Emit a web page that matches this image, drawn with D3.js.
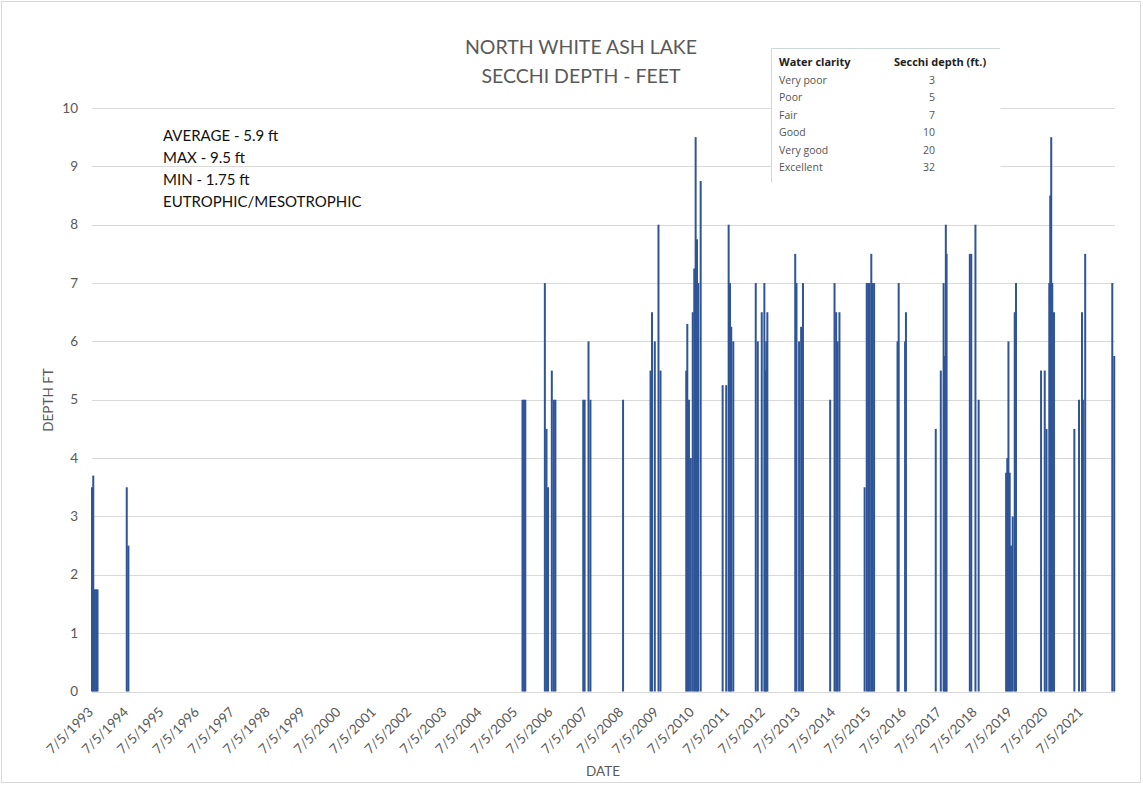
<!DOCTYPE html>
<html><head><meta charset="utf-8">
<script src="https://cdn.jsdelivr.net/npm/d3@7"></script>
<style>body{margin:0;background:#fff}svg{display:block}</style>
</head><body>
<svg id="c" width="1143" height="786"></svg>
<script>
// ---- data ----
const sampleDates = [
"1993-07-05","1993-07-18","1993-08-02","1993-08-16","1993-08-31",
"1994-06-29","1994-07-16",
"2005-09-08","2005-09-24","2005-10-07",
"2006-04-27","2006-05-14","2006-05-30","2006-07-08","2006-07-29","2006-08-14",
"2007-05-29","2007-06-12","2007-07-22","2007-08-11",
"2008-07-13",
"2009-04-23","2009-05-08","2009-06-06","2009-07-14","2009-08-04",
"2010-04-27","2010-05-08","2010-05-25","2010-06-13","2010-07-03","2010-07-19","2010-08-02","2010-08-16","2010-08-29","2010-09-23",
"2011-05-08","2011-06-14","2011-07-09","2011-07-23","2011-08-05","2011-08-26",
"2012-04-14","2012-05-05","2012-06-15","2012-07-12","2012-07-22","2012-08-01","2012-08-12",
"2013-05-27","2013-06-09","2013-07-06","2013-07-27","2013-08-15",
"2014-05-23","2014-07-07","2014-07-24","2014-08-08","2014-08-27",
"2015-05-14","2015-06-05","2015-06-20","2015-07-05","2015-07-22","2015-08-04","2015-08-20",
"2016-04-18","2016-04-30","2016-07-05","2016-07-14",
"2017-05-18","2017-07-09","2017-08-07","2017-08-17","2017-08-30","2017-09-07",
"2018-05-05","2018-05-20","2018-07-02","2018-08-04",
"2019-05-15","2019-05-27","2019-06-08","2019-06-21","2019-07-04","2019-07-22","2019-08-12","2019-08-25",
"2020-05-10","2020-06-17","2020-07-05","2020-08-03","2020-08-13","2020-08-23","2020-09-03","2020-09-21",
"2021-04-19","2021-06-06","2021-07-07","2021-07-17","2021-08-09",
"2022-05-16","2022-06-05"
];
const secchiDepths = [
3.5,3.7,1.75,1.75,1.75,
3.5,2.5,
5,5,5,
7,4.5,3.5,5.5,5,5,
5,5,6,5,
5,
5.5,6.5,6,8,5.5,
5.5,6.3,5,4,6.5,7.25,9.5,7.75,7,8.75,
5.25,5.25,8,7,6.25,6,
7,6,6.5,7,5.5,6,6.5,
7.5,7,6,6.25,7,
5,7,6.5,6,6.5,
3.5,7,7,7,7.5,7,7,
6,7,6,6.5,
4.5,5.5,7,5.75,8,7.5,
7.5,7.5,8,5,
3.75,4,6,3.75,2.5,3,6.5,7,
5.5,5.5,4.5,7,8.5,9.5,7,6.5,
4.5,5,6.5,5,7.5,
7,5.75
];
const tickYears = [1993,1994,1995,1996,1997,1998,1999,2000,2001,2002,2003,2004,2005,2006,2007,2008,2009,2010,2011,2012,2013,2014,2015,2016,2017,2018,2019,2020,2021];
const yTicks = [0,1,2,3,4,5,6,7,8,9,10];
const titleLines = ["NORTH WHITE ASH LAKE","SECCHI DEPTH - FEET"];
const notes = ["AVERAGE - 5.9 ft","MAX - 9.5 ft","MIN - 1.75 ft","EUTROPHIC/MESOTROPHIC"];
const clarityClasses = ["Very poor","Poor","Fair","Good","Very good","Excellent"];
const clarityDepths = [3,5,7,10,20,32];

// ---- chart ----
const svg = d3.select("#c");
const FONT = "Lato, 'Open Sans', sans-serif";
const parse = d3.timeParse("%Y-%m-%d");
const data = sampleDates.map((s,i)=>({date:parse(s), v:secchiDepths[i]}));

const x = d3.scaleTime().domain([new Date(1993,6,5), new Date(2022,5,13)]).range([92,1115]);
const y = d3.scaleLinear().domain([0,10]).range([691.5,108]);

svg.append("rect").attr("x",1.5).attr("y",1.5).attr("width",1139).attr("height",781)
  .attr("fill","#fff").attr("stroke","#d9d9d9");

// gridlines
svg.append("g").selectAll("line").data(yTicks).join("line")
  .attr("x1",92).attr("x2",1115)
  .attr("y1",d=>Math.round(y(d))+0.5).attr("y2",d=>Math.round(y(d))+0.5)
  .attr("stroke","#d9d9d9").attr("stroke-width",1);

// y labels
svg.append("g").selectAll("text").data(yTicks).join("text")
  .attr("x",78).attr("y",d=>y(d)+4.5).attr("text-anchor","end")
  .attr("font-family",FONT).attr("font-size",13.5).attr("fill","#595959")
  .text(d=>d);

// bars
svg.append("g").selectAll("rect").data(data).join("rect")
  .attr("x",d=>x(d.date)-1).attr("width",2)
  .attr("y",d=>y(d.v)).attr("height",d=>y(0)-y(d.v))
  .attr("fill","#2f5597");

// x tick labels
svg.append("g").selectAll("text").data(tickYears).join("text")
  .attr("transform",d=>`translate(${x(new Date(d,6,5))+2},713) rotate(-45)`)
  .attr("text-anchor","end")
  .attr("font-family",FONT).attr("font-size",13.5).attr("fill","#595959")
  .text(d=>`7/5/${d}`);

// axis titles
svg.append("text").attr("x",603).attr("y",776).attr("text-anchor","middle")
  .attr("font-family",FONT).attr("font-size",13.5).attr("fill","#595959").text("DATE");
svg.append("text").attr("transform","translate(53,400) rotate(-90)").attr("text-anchor","middle")
  .attr("font-family",FONT).attr("font-size",13.5).attr("fill","#595959").text("DEPTH FT");

// title
svg.append("g").selectAll("text").data(titleLines).join("text")
  .attr("x",581).attr("y",(d,i)=>54+i*28.5).attr("text-anchor","middle")
  .attr("font-family",FONT).attr("font-size",19.5).attr("fill","#595959")
  .text(d=>d);

// notes
svg.append("g").selectAll("text").data(notes).join("text")
  .attr("x",163).attr("y",(d,i)=>141+i*21.9)
  .attr("font-family",FONT).attr("font-size",15).attr("fill","#111")
  .text(d=>d);

// clarity table
const tb = svg.append("g");
tb.append("rect").attr("x",771.5).attr("y",48.5).attr("width",229).attr("height",134).attr("fill","#fff");
tb.append("line").attr("x1",771.5).attr("x2",1000).attr("y1",48.5).attr("y2",48.5).attr("stroke","#cdd8d8");
tb.append("line").attr("x1",771.5).attr("x2",771.5).attr("y1",48.5).attr("y2",182).attr("stroke","#cdd8d8");
tb.append("text").attr("x",779).attr("y",66).attr("font-family","'Open Sans', sans-serif")
  .attr("font-size",11).attr("font-weight","bold").attr("fill","#222").text("Water clarity");
tb.append("text").attr("x",894).attr("y",66).attr("font-family","'Open Sans', sans-serif")
  .attr("font-size",11).attr("font-weight","bold").attr("fill","#222").text("Secchi depth (ft.)");
tb.selectAll("text.cl").data(clarityClasses).join("text").attr("class","cl")
  .attr("x",779).attr("y",(d,i)=>84+i*17.4).attr("font-family","'Open Sans', sans-serif")
  .attr("font-size",10.5).attr("fill","#555").text(d=>d);
tb.selectAll("text.cd").data(clarityDepths).join("text").attr("class","cd")
  .attr("x",935).attr("y",(d,i)=>84+i*17.4).attr("text-anchor","end").attr("font-family","'Open Sans', sans-serif")
  .attr("font-size",10.5).attr("fill","#555").text(d=>d);
</script>
</body></html>
